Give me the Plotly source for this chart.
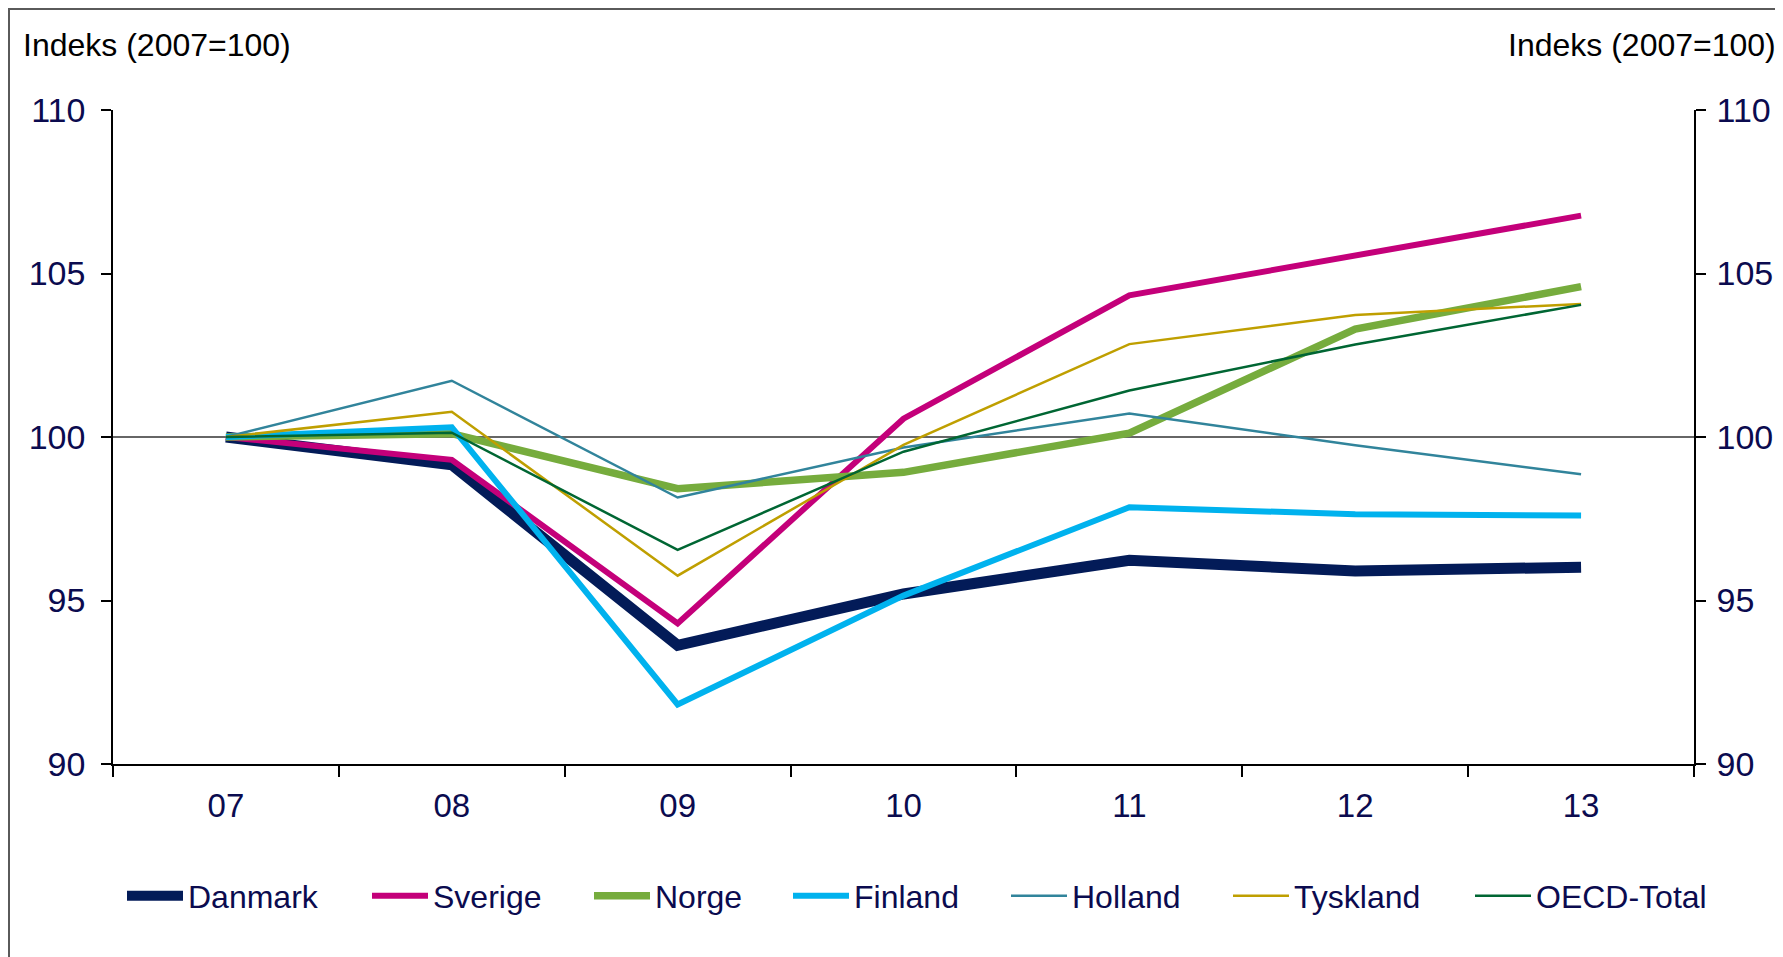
import plotly.graph_objects as go

years = ["07", "08", "09", "10", "11", "12", "13"]
danmark = [100, 99.15, 93.63, 95.2, 96.23, 95.9, 96.02]
sverige = [100, 99.3, 94.3, 100.56, 104.33, 105.55, 106.77]
norge = [100, 100.1, 98.42, 98.92, 100.12, 103.3, 104.6]
finland = [100, 100.3, 91.82, 95.15, 97.85, 97.64, 97.6]
holland = [100, 101.72, 98.15, 99.68, 100.72, 99.75, 98.86]
tyskland = [100, 100.77, 95.76, 99.76, 102.84, 103.73, 104.07]
oecd = [100, 100.13, 96.55, 99.55, 101.42, 102.83, 104.04]

series = [
    ("Danmark", danmark, "#031B58", 11),
    ("Sverige", sverige, "#C4007A", 6),
    ("Norge", norge, "#76AC3D", 7.5),
    ("Finland", finland, "#00B2EE", 6),
    ("Holland", holland, "#31849B", 2.5),
    ("Tyskland", tyskland, "#BF9F00", 2.5),
    ("OECD-Total", oecd, "#006633", 2.5),
]

# page body has an 8px margin; lay out in figure coordinates
OFF = 8
W, H = 1783 - OFF, 957 - OFF
L, R, T, B = 113 - OFF, 1694 - OFF, 110 - OFF, 764 - OFF
pw, ph = R - L, B - T

FONT = "Liberation Sans, Arial, sans-serif"
NAVY = "#0B0B4F"

legend_line_start = [128, 373, 595, 794, 1012, 1234, 1476]

fig = go.Figure()
layout_legends = {}
n = len(series)
for i, (name, vals, col, w) in enumerate(series):
    lname = "legend" if i == 0 else f"legend{i+1}"
    fig.add_trace(go.Scatter(
        x=years, y=vals, name=name, mode="lines",
        line=dict(color=col, width=w),
        legend=lname,
        yaxis="y2" if i == n - 1 else "y",
    ))
    layout_legends[lname] = dict(
        x=(legend_line_start[i] - OFF - 6 - L) / pw, xanchor="left",
        y=(B - (896 - OFF)) / ph, yanchor="middle",
        bgcolor="rgba(0,0,0,0)", borderwidth=0,
        font=dict(family=FONT, size=32, color=NAVY),
        itemwidth=56,
    )

fig.update_layout(**layout_legends)

axis_common = dict(
    showgrid=False, zeroline=False,
    showline=True, linecolor="#000000", linewidth=1.5,
    ticks="outside", tickcolor="#000000", tickwidth=1.5,
)

fig.update_layout(
    width=W, height=H,
    margin=dict(l=L, r=W - R, t=T, b=H - B, autoexpand=False),
    paper_bgcolor="white", plot_bgcolor="white",
    showlegend=True,
    xaxis=dict(
        type="category", range=[-0.5, 6.5],
        tickson="boundaries", ticklen=11,
        tickfont=dict(family=FONT, size=33, color=NAVY),
        ticklabelstandoff=12,
        **axis_common,
    ),
    yaxis=dict(
        range=[90, 110], tickvals=[90, 95, 100, 105, 110],
        ticklen=10,
        tickfont=dict(family=FONT, size=34, color=NAVY),
        ticklabelstandoff=9,
        **axis_common,
    ),
    yaxis2=dict(
        range=[90, 110], tickvals=[90, 95, 100, 105, 110],
        overlaying="y", side="right",
        ticklen=10,
        tickfont=dict(family=FONT, size=34, color=NAVY),
        ticklabelstandoff=4,
        **axis_common,
    ),
)

# horizontal reference line at 100
fig.add_shape(type="line", xref="paper", yref="y", x0=0, x1=1, y0=100, y1=100,
              line=dict(color="#333333", width=1.5), layer="below")

# outer frame
fig.add_shape(type="rect", xref="paper", yref="paper",
              x0=(9 - OFF - L) / pw, x1=(1780 - OFF - L) / pw,
              y0=(B - 990) / ph, y1=(B - (9 - OFF)) / ph,
              line=dict(color="#5A5A5A", width=2), fillcolor="rgba(0,0,0,0)", layer="below")

# axis titles
fig.add_annotation(text="Indeks (2007=100)", xref="paper", yref="paper",
                   x=(21 - OFF - L) / pw, xanchor="left", y=(B - (45 - OFF)) / ph, yanchor="middle",
                   showarrow=False, font=dict(family=FONT, size=32, color="#000000"))
fig.add_annotation(text="Indeks (2007=100)", xref="paper", yref="paper",
                   x=(1778 - OFF - L) / pw, xanchor="right", y=(B - (45 - OFF)) / ph, yanchor="middle",
                   showarrow=False, font=dict(family=FONT, size=32, color="#000000"))

fig.write_html("out.html")
